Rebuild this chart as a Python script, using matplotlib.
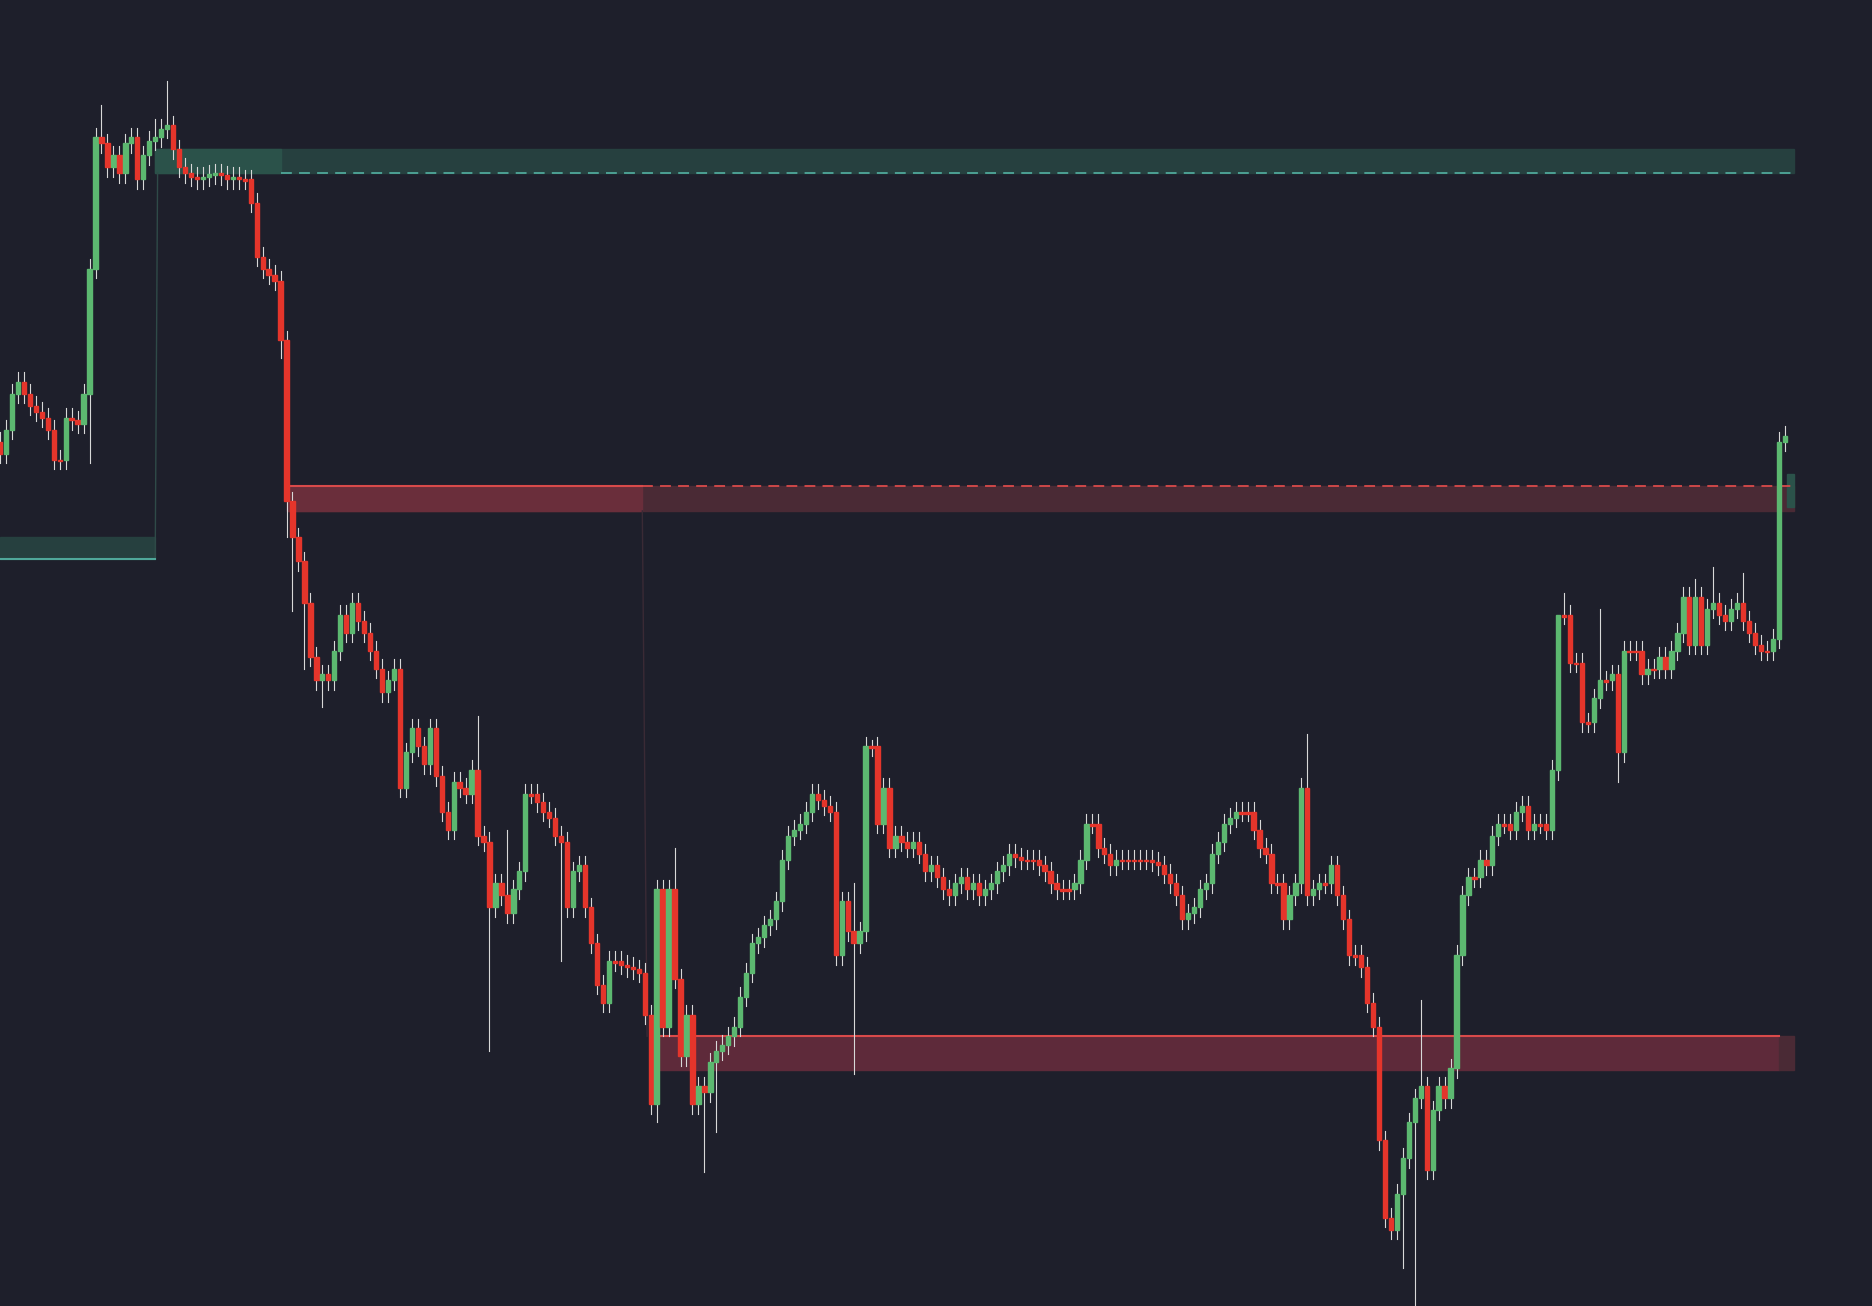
import matplotlib.pyplot as plt
from matplotlib.patches import Rectangle

# candle x positions (chart px) and closes (chart px, y grows downward)
xs = list(range(0, 1505, 5))
closes = [380, 360, 330, 320, 330, 340, 345, 350, 360, 385, 385, 350, 352, 355, 330, 225,
          115, 120, 140, 130, 145, 120, 115, 150, 130, 118, 115, 108, 105, 125, 140,
          145, 148, 150, 148, 146, 145, 147, 150, 148, 150, 150, 170, 215, 225, 230, 235,
          285, 420, 450, 470, 505, 550, 570, 565, 570, 545, 515, 530, 505, 520, 530, 545,
          560, 580, 570, 560, 660, 630, 610, 625, 640, 610, 650, 680, 695, 655, 660, 665,
          645, 700, 705, 760, 740, 750, 765, 745, 730, 665, 665, 672, 680, 685, 700, 705,
          760, 730, 725, 760, 790, 825, 840, 805, 805, 808, 810, 812, 815, 850, 925, 745,
          860, 745, 820, 885, 850, 925, 910, 915, 890, 880, 875, 868, 860, 835, 815, 790,
          785, 775, 770, 755, 720, 700, 695, 690, 680, 665, 670, 675, 680, 800, 755, 780,
          790, 780, 625, 625, 690, 660, 710, 700, 705, 710, 705, 715, 730, 725, 735, 745,
          750, 740, 735, 745, 740, 750, 745, 740, 730, 725, 715, 718, 720, 720, 720, 725,
          730, 740, 745, 745, 745, 740, 720, 690, 690, 710, 715, 725, 720, 720, 720, 720,
          720, 720, 722, 725, 732, 740, 750, 770, 765, 760, 745, 740, 715, 705, 690, 685,
          680, 680, 680, 695, 710, 715, 740, 740, 770, 750, 740, 660, 750, 745, 740, 740,
          725, 750, 770, 800, 800, 810, 840, 860, 955, 1020, 1030, 1000, 970, 940, 920,
          910, 980, 930, 910, 920, 895, 800, 750, 735, 735, 720, 725, 700, 690, 690, 695,
          680, 675, 695, 690, 690, 695, 645, 515, 515, 555, 555, 605, 605, 585, 570, 570,
          565, 630, 545, 545, 545, 565, 560, 560, 550, 560, 545, 530, 500, 540, 500, 540,
          510, 505, 515, 520, 510, 505, 520, 530, 540, 545, 545, 535, 370, 365]
first_open = 370
# notable wick extremes: x -> (top, bottom)
wicks = {85: (88, None), 140: (68, None), 130: (100, None), 245: (None, 512), 255: (None, 560),
         270: (None, 592), 400: (600, None), 410: (None, 880), 425: (695, None),
         470: (None, 805), 550: (None, 940), 565: (710, None), 590: (None, 982),
         600: (None, 948), 715: (740, 900), 730: (620, None), 1095: (615, None),
         1175: (None, 1062), 1185: (None, 1094), 1190: (838, None), 1305: (620, None),
         1310: (497, None), 1340: (510, None), 1355: (None, 655), 1420: (485, None),
         1435: (475, None), 1460: (480, None), 1500: (328, None), 75: (None, 388),
         235: (None, 300), 240: (None, 450)}

BG = '#1e1f2b'
GREEN = '#5cb870'
RED = '#e5352b'

fig = plt.figure(figsize=(18.72, 13.06), dpi=100, facecolor=BG)
ax = fig.add_axes([0, 0, 1, 1], facecolor=BG)
ax.set_xlim(0, 1568)
ax.set_ylim(1094, 0)
ax.axis('off')

# zones
ax.add_patch(Rectangle((130, 125), 1373, 20, color='#26403f', zorder=1))
ax.add_patch(Rectangle((130, 125), 105, 20, color='#2b524a', zorder=1))
ax.plot([235, 1503], [145, 145], color='#4fa89a', lw=1.3, ls=(0, (6, 4)), zorder=2)
ax.add_patch(Rectangle((0, 450), 130, 18, color='#26403f', zorder=1))
ax.plot([0, 130], [468, 468], color='#4fa89a', lw=1.5, zorder=2)
ax.plot([130, 132], [468, 145], color='#2f4a48', lw=1, zorder=1)

ax.add_patch(Rectangle((240, 407), 1263, 21, color='#4a2a35', zorder=1))
ax.add_patch(Rectangle((240, 407), 298, 21, color='#6a2e3b', zorder=1))
ax.plot([240, 538], [407, 407], color='#d94a4a', lw=1.5, zorder=2)
ax.plot([538, 1503], [407, 407], color='#d94a4a', lw=1.3, ls=(0, (6, 4)), zorder=2)
ax.plot([538, 542], [428, 868], color='#3a2a35', lw=1, zorder=1)
ax.add_patch(Rectangle((1497, 397), 6, 28, color='#2b524a', zorder=1))

ax.add_patch(Rectangle((548, 868), 942, 28, color='#5e2a3a', zorder=1))
ax.add_patch(Rectangle((1490, 868), 13, 28, color='#4a2a35', zorder=1))
ax.plot([548, 1490], [868, 868], color='#d94a4a', lw=1.5, zorder=2)

# candles
prev = first_open
for x, c in zip(xs, closes):
    o = prev
    top, bot = min(o, c), max(o, c)
    col = GREEN if c < o else RED
    wt, wb = wicks.get(x, (None, None))
    hi = wt if wt is not None else top - 8
    lo = wb if wb is not None else bot + 8
    ax.plot([x, x], [hi, lo], color='#d8d8d8', lw=0.8, zorder=3)
    ax.add_patch(Rectangle((x - 1.8, top), 3.6, max(bot - top, 1.5), color=col, zorder=4))
    prev = c

fig.savefig('out.png', dpi=100, facecolor=BG)
